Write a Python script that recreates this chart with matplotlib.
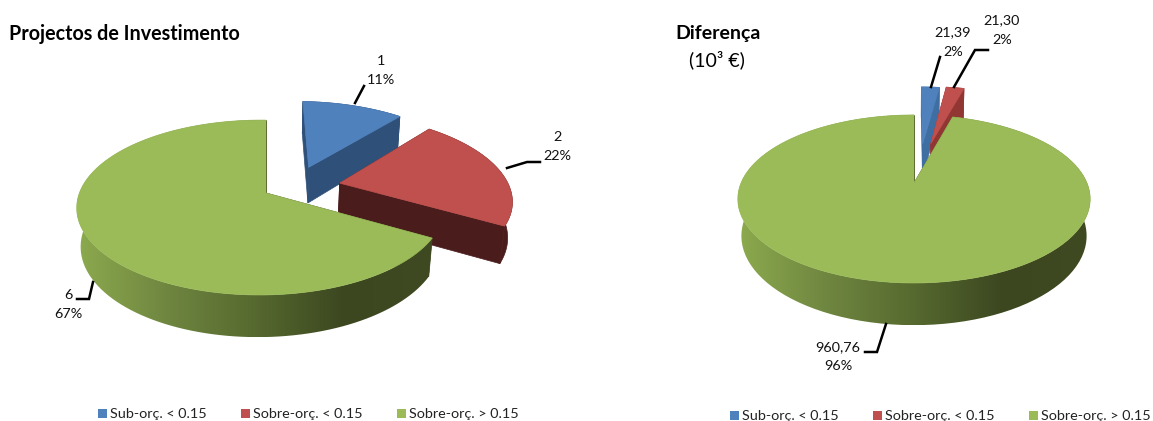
import matplotlib
matplotlib.use('Agg')
import matplotlib.pyplot as plt
import numpy as np
from matplotlib.colors import LinearSegmentedColormap
from matplotlib.patches import Polygon, Rectangle

plt.rcParams['font.family'] = ['Lato', 'DejaVu Sans']

categorias = ['Sub-orç. < 0.15', 'Sobre-orç. < 0.15', 'Sobre-orç. > 0.15']
projectos = [1, 2, 6]
diferenca = [21.39, 21.30, 960.76]
rotulos_projectos = ['1', '2', '6']
rotulos_diferenca = ['21,39', '21,30', '960,76']

topo = ['#4F81BD', '#C0504D', '#9BBB59']
verde_lateral = LinearSegmentedColormap.from_list(
    'verde', ['#8CAA4E', '#6F8640', '#56692F', '#3C4720', '#3F4A22'])

fig = plt.figure(figsize=(11.53, 4.21), dpi=100)
ax = fig.add_axes([0, 0, 1, 1])


# projeccao em perspectiva de um ponto do disco (u, v) a profundidade z
def projectar(u, v, z, g):
    w = 1 + g['k'] * v + g['q'] * u + g['m'] * z
    return g['cx'] + g['a'] * u / w, g['cy'] + (-g['b'] * v + g['d'] * z) / w


def aresta(teta, g, du, dv, z):
    return np.column_stack(projectar(np.sin(teta) + du, np.cos(teta) + dv, z, g))


# desenha uma fatia: faces de corte, parede exterior e topo
def fatia(ini, fim, g, cor, corte, desloc, z0, gradiente=False):
    du, dv = desloc
    teta = np.linspace(ini, fim, 120)
    centro_t = np.array(projectar(du, dv, 0, g))
    centro_b = np.array(projectar(du, dv, 1, g))
    arco_t = aresta(teta, g, du, dv, 0)
    arco_b = aresta(teta, g, du, dv, 1)
    for i in (0, -1):
        face = [centro_t, arco_t[i], arco_b[i], centro_b]
        ax.add_patch(Polygon(face, fc=corte, ec=corte, lw=0.5, zorder=z0))
    parede = np.vstack([arco_t, arco_b[::-1]])
    if gradiente:
        p = Polygon(parede, fc='none', ec='none', zorder=z0 + 1)
        ax.add_patch(p)
        x0, x1 = parede[:, 0].min(), parede[:, 0].max()
        im = ax.imshow(np.linspace(0, 1, 256)[None, :], cmap=verde_lateral, aspect='auto',
                       extent=[x0, x1, parede[:, 1].max(), parede[:, 1].min()], zorder=z0 + 1)
        im.set_clip_path(p)
    else:
        ax.add_patch(Polygon(parede, fc=corte, ec=corte, lw=0.5, zorder=z0 + 1))
    ax.add_patch(Polygon(np.vstack([centro_t, arco_t]), fc=cor, ec=cor, lw=0.5, zorder=z0 + 2))


def tarte(valores, g, deslocs, cortes):
    angulos = np.concatenate([[0], np.cumsum(valores)]) / np.sum(valores) * 2 * np.pi
    for i in range(len(valores)):
        fatia(angulos[i], angulos[i + 1], g, topo[i], cortes[i], deslocs[i], 10 + 5 * i,
              gradiente=(i == 2))


def rotulos(valores, nomes, posicoes):
    total = np.sum(valores)
    for v, n, (x, y) in zip(valores, nomes, posicoes):
        ax.text(x, y, n, ha='center', va='center', fontsize=10.4, color='#111111', zorder=40)
        ax.text(x, y + 19.5, f'{v / total * 100:.0f}%', ha='center', va='center',
                fontsize=10.4, color='#111111', zorder=40)


def legenda(xs, y):
    for x, c, t in zip(xs, topo, categorias):
        ax.add_patch(Rectangle((x, y - 4.5), 9, 9, fc=c, ec='none', zorder=40))
        ax.text(x + 12, y, t, ha='left', va='center', fontsize=10.4, color='#222222', zorder=40)


def guia(xs, ys):
    ax.plot(xs, ys, color='black', lw=1.8, solid_joinstyle='miter', zorder=39)


# grafico da esquerda
g1 = dict(cx=266, cy=193, a=181, b=85, k=0.166, q=0.03, m=0.02, d=38)
tarte(projectos, g1, [(0.25, 0.32), (0.42, 0.12), (0, 0)],
      ['#2F5078', '#4B1C1C', '#3F4A22'])
rotulos(projectos, rotulos_projectos, [(381, 61), (557, 137), (68, 295)])
guia([355, 364], [103, 86])
guia([507, 527, 540], [168, 162, 162])
guia([93, 89, 77], [282, 299, 299])
ax.text(9, 34, 'Projectos de Investimento', fontsize=14.2, fontweight='bold', va='center')
legenda([98, 241, 397], 413.5)

# grafico da direita
g2 = dict(cx=914, cy=183, a=173, b=81, k=0.19, q=0, m=0.02, d=37)
tarte(diferenca, g2, [(0.055, 0.53), (0.107, 0.535), (0, 0)],
      ['#3F6EA3', '#923634', '#3F4A22'])
rotulos(diferenca, rotulos_diferenca, [(953, 32), (1002, 20), (838, 347)])
guia([931, 940], [87, 57])
guia([954, 975, 988], [87, 50, 50])
guia([886, 877, 865], [324, 352, 352])
ax.text(675, 33, 'Diferença', fontsize=14, fontweight='bold', va='center')
ax.text(689, 60, '(10³ €)', fontsize=14, va='center')
legenda([730, 873, 1029], 415.5)

ax.set_xlim(0, 1153)
ax.set_ylim(421, 0)
ax.axis('off')
fig.savefig('out.png', dpi=100)
